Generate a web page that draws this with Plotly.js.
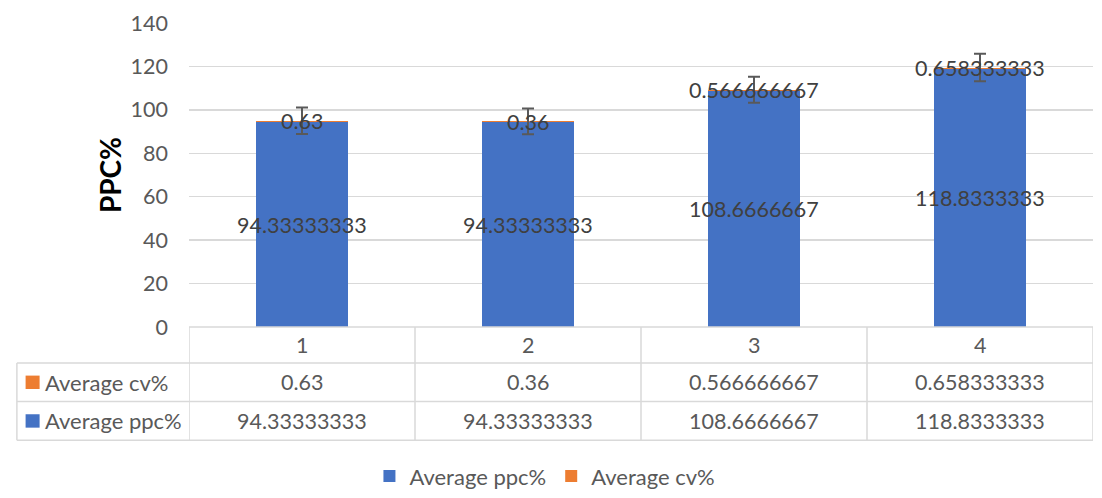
<!DOCTYPE html>
<html>
<head>
<meta charset="utf-8">
<script src="https://cdn.plot.ly/plotly-3.0.1.min.js"></script>
<style>
  html, body { margin: 0; padding: 0; background: #fff; overflow: hidden; }
  #chart { width: 1102px; height: 498px; }
</style>
</head>
<body>
<div id="chart"></div>
<script>
// Stacked averages per sample group, with a data table underneath
const categories = ['1', '2', '3', '4'];
const avgPpc = [94.33333333, 94.33333333, 108.6666667, 118.8333333];
const avgCv = [0.63, 0.36, 0.566666667, 0.658333333];
const errSize = [6.1, 5.9, 6.0, 6.3];
const seriesNames = ['Average ppc%', 'Average cv%'];
const yTicks = [0, 20, 40, 60, 80, 100, 120, 140];

const W = 1102, H = 498;
const M = { l: 189.3, r: 9.3, t: 22.7, b: 171.3, autoexpand: false };
const plotW = W - M.l - M.r, plotH = H - M.t - M.b;
// pixel -> paper helpers for the table drawn below the plot area
const X = px => (px - M.l) / plotW;
const Y = py => (H - M.b - py) / plotH;

const BLUE = '#4472C4', ORANGE = '#ED7D31';
const GRID = '#D9D9D9', TXT = '#595959', LBL = '#404040';
const FONT = 'Lato, "Open Sans", sans-serif';
const NUM = 21.5, WORD = 22;

// Excel "General"-style number text: at most 11 characters
function general(v) {
  for (let d = 10; d >= 0; d--) {
    let s = v.toFixed(d);
    if (s.indexOf('.') >= 0) s = s.replace(/0+$/, '').replace(/\.$/, '');
    if (s.length <= 11) return s;
  }
  return String(v);
}

const totals = avgPpc.map((v, i) => v + avgCv[i]);

const traces = [
  { type: 'bar', name: seriesNames[0], x: categories, y: avgPpc,
    marker: { color: BLUE }, hoverinfo: 'skip' },
  { type: 'bar', name: seriesNames[1], x: categories, y: avgCv,
    marker: { color: ORANGE }, hoverinfo: 'skip' },
  { type: 'scatter', mode: 'markers', x: categories, y: totals,
    marker: { opacity: 0, size: 1 }, showlegend: false, hoverinfo: 'skip',
    error_y: { type: 'data', array: errSize, visible: true,
               color: '#595959', thickness: 2, width: 6 } }
];

const shapes = [];
const annotations = [];
const line = { color: GRID, width: 1.5 };

// table rows (pixel y of horizontal rules)
const rowTop = 326.7, rowCat = 362.7, rowCv = 401.3, rowBot = 440;
const leftEdge = 17.3;

// top rule = category axis line
shapes.push({ type: 'line', xref: 'paper', yref: 'paper', x0: 0, x1: 1, y0: Y(rowTop), y1: Y(rowTop), line });
[rowCat, rowCv, rowBot].forEach(py => shapes.push({
  type: 'line', xref: 'paper', yref: 'paper', x0: X(leftEdge), x1: 1, y0: Y(py), y1: Y(py), line }));
// column separators
for (let k = 0; k <= categories.length; k++) {
  shapes.push({ type: 'line', xref: 'x', yref: 'paper', x0: k - 0.5, x1: k - 0.5,
    y0: Y(rowTop), y1: Y(rowBot), line });
}
shapes.push({ type: 'line', xref: 'paper', yref: 'paper', x0: X(leftEdge), x1: X(leftEdge),
  y0: Y(rowCat), y1: Y(rowBot), line });

// row header keys
const rowHeaders = [
  { name: seriesNames[1], color: ORANGE, top: rowCat, bot: rowCv },
  { name: seriesNames[0], color: BLUE, top: rowCv, bot: rowBot }
];
rowHeaders.forEach(r => {
  const mid = (r.top + r.bot) / 2;
  shapes.push({ type: 'rect', xref: 'paper', yref: 'paper', x0: X(26), x1: X(40),
    y0: Y(mid - 6.7), y1: Y(mid + 6.7), fillcolor: r.color, line: { width: 0 } });
  annotations.push({ xref: 'paper', yref: 'paper', x: X(43), y: Y(mid), xanchor: 'left',
    yanchor: 'middle', text: r.name, showarrow: false, font: { size: WORD, color: TXT, family: FONT } });
});

// table cells and bar labels (x given as category index)
categories.forEach((c, i) => {
  const cell = (y, text, yref, color) => annotations.push({
    xref: 'x', yref, x: i, y, text, showarrow: false, xanchor: 'center', yanchor: 'middle',
    font: { size: NUM, color, family: FONT } });
  cell(Y((rowTop + rowCat) / 2), c, 'paper', TXT);
  cell(Y((rowCat + rowCv) / 2), general(avgCv[i]), 'paper', TXT);
  cell(Y((rowCv + rowBot) / 2), general(avgPpc[i]), 'paper', TXT);
  // bar data labels, centred on each segment
  cell(avgPpc[i] / 2, general(avgPpc[i]), 'y', LBL);
  cell(avgPpc[i] + avgCv[i] / 2, general(avgCv[i]), 'y', LBL);
});

const layout = {
  width: W, height: H,
  margin: M,
  paper_bgcolor: '#fff', plot_bgcolor: '#fff',
  font: { family: FONT, color: TXT, size: NUM },
  barmode: 'stack',
  bargap: 0.597,
  showlegend: true,
  legend: { orientation: 'h', x: X(545), xanchor: 'center', y: Y(476), yanchor: 'middle',
            font: { size: WORD, color: TXT, family: FONT }, traceorder: 'normal' },
  xaxis: { type: 'category', range: [-0.5, categories.length - 0.5],
           showticklabels: false, showgrid: false, zeroline: false, showline: false, ticks: '' },
  yaxis: { range: [0, 140], tickvals: yTicks, showgrid: true, gridcolor: GRID, gridwidth: 1.5,
           zeroline: false, showline: false, ticks: '', ticklabelstandoff: 20,
           tickfont: { size: NUM, color: TXT, family: FONT },
           title: { text: 'PPC%', standoff: 0,
                    font: { size: 28, color: '#000', family: FONT, weight: 'bold' } } },
  shapes, annotations
};

Plotly.newPlot('chart', traces, layout, { staticPlot: true, displayModeBar: false });
</script>
</body>
</html>
